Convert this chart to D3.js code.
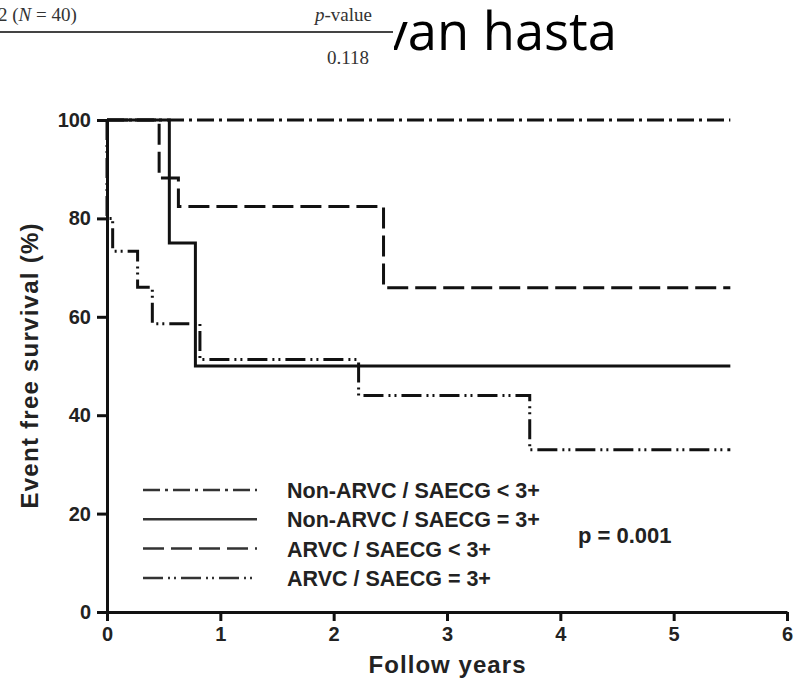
<!DOCTYPE html>
<html>
<head>
<meta charset="utf-8">
<script src="https://cdn.jsdelivr.net/npm/d3@7"></script>
<style>
    body { margin: 0; background: #fff; }
    #chart { width: 805px; height: 682px; }
</style>
</head>
<body>
<div id="chart"></div>
<script>

// groups in legend order
var groups = ["Non-ARVC / SAECG < 3+", "Non-ARVC / SAECG = 3+", "ARVC / SAECG < 3+", "ARVC / SAECG = 3+"];

// step points (years, % event free)
var nonArvcLow_t = [0, 5.5];
var nonArvcLow_s = [100, 100];

var nonArvcHigh_t = [0, 0.55, 0.78, 5.5];
var nonArvcHigh_s = [100, 75, 50, 50];

var arvcLow_t = [0, 0.46, 0.63, 2.44, 5.5];
var arvcLow_s = [100, 88.2, 82.4, 65.9, 65.9];

var arvcHigh_t = [0, 0, 0.05, 0.27, 0.40, 0.82, 2.22, 3.73, 5.5];
var arvcHigh_s = [100, 80, 73.3, 66, 58.6, 51.3, 44, 33, 33];

var xTicks = [0, 1, 2, 3, 4, 5, 6];
var yTicks = [0, 20, 40, 60, 80, 100];
var pText = "p = 0.001";

var series = [
    {name: groups[0], t: nonArvcLow_t, s: nonArvcLow_s, dash: "17,5,3,5"},
    {name: groups[1], t: nonArvcHigh_t, s: nonArvcHigh_s, dash: null},
    {name: groups[2], t: arvcLow_t, s: arvcLow_s, dash: "21,7"},
    {name: groups[3], t: arvcHigh_t, s: arvcHigh_s, dash: "20,5,2,4,2,5"}
];

var W = 805, H = 682;
var margin = {top: 120, left: 107, right: 18, bottom: 70};

var svg = d3.select("#chart")
    .append("svg")
    .attr("width", W)
    .attr("height", H)
    .style("font-family", "'Liberation Sans', Arial, sans-serif");

// ---- cropped table strip + slide text at the top ----
svg.append("clipPath")
    .attr("id", "slide-clip")
    .append("rect")
    .attr("x", 394).attr("y", 0)
    .attr("width", W - 394).attr("height", 90);

svg.append("text")
    .attr("clip-path", "url(#slide-clip)")
    .attr("x", 617)
    .attr("y", 50)
    .attr("text-anchor", "end")
    .style("font-family", "'Open Sans', Lato, sans-serif")
    .style("font-size", "52.5px")
    .style("fill", "#000")
    .text("van hasta");

var table = svg.append("g")
    .style("font-family", "'Liberation Serif', 'DejaVu Serif', serif")
    .style("fill", "#333");

var t1 = table.append("text")
    .attr("x", -2).attr("y", 21)
    .style("font-size", "19px");
t1.append("tspan").text("2 (");
t1.append("tspan").style("font-style", "italic").text("N");
t1.append("tspan").text(" = 40)");

var t2 = table.append("text")
    .attr("x", 315).attr("y", 21)
    .style("font-size", "19px");
t2.append("tspan").style("font-style", "italic").text("p");
t2.append("tspan").text("-value");

table.append("text")
    .attr("x", 327).attr("y", 64)
    .style("font-size", "19px")
    .text("0.118");

table.append("line")
    .attr("x1", 0).attr("x2", 393)
    .attr("y1", 32).attr("y2", 32)
    .style("stroke", "#444")
    .style("stroke-width", 2);

// ---- chart ----
var xScale = d3.scaleLinear()
    .domain([0, 6])
    .range([margin.left, W - margin.right]);

var yScale = d3.scaleLinear()
    .domain([0, 100])
    .range([H - margin.bottom, margin.top]);

svg.append("g")
    .attr("class", "y-axis")
    .attr("transform", "translate(" + margin.left + ",0)")
    .call(d3.axisLeft(yScale)
        .tickValues(yTicks)
        .tickFormat(d3.format("d"))
        .tickSize(10)
        .tickSizeOuter(0)
        .tickPadding(6));

svg.append("g")
    .attr("class", "x-axis")
    .attr("transform", "translate(0," + yScale(0) + ")")
    .call(d3.axisBottom(xScale)
        .tickValues(xTicks)
        .tickFormat(d3.format("d"))
        .tickSize(9)
        .tickSizeOuter(0)
        .tickPadding(6));

svg.selectAll(".x-axis path, .y-axis path, .x-axis line, .y-axis line")
    .style("stroke", "#111")
    .style("stroke-width", 3);

svg.selectAll(".x-axis text, .y-axis text")
    .style("font-size", "20px")
    .style("font-weight", "bold")
    .style("fill", "#222");

svg.append("text")
    .attr("x", xScale(3))
    .attr("y", 673)
    .attr("text-anchor", "middle")
    .attr("textLength", 157)
    .style("font-size", "24px")
    .style("font-weight", "bold")
    .style("fill", "#222")
    .text("Follow years");

svg.append("text")
    .attr("transform", "translate(38," + yScale(50) + ") rotate(-90)")
    .attr("text-anchor", "middle")
    .attr("textLength", 285)
    .style("font-size", "24px")
    .style("font-weight", "bold")
    .style("fill", "#222")
    .text("Event free survival (%)");

var line = d3.line()
    .x(function (d) { return xScale(d[0]); })
    .y(function (d) { return yScale(d[1]); })
    .curve(d3.curveStepAfter);

svg.selectAll("path.km")
    .data(series.slice().reverse())
    .enter()
    .append("path")
    .attr("class", "km")
    .attr("d", function (d) {
        return line(d.t.map(function (t, i) { return [t, d.s[i]]; }));
    })
    .style("fill", "none")
    .style("stroke", "#111")
    .style("stroke-width", 3)
    .style("stroke-dasharray", function (d) { return d.dash; });

// ---- legend ----
var legend = svg.append("g")
    .attr("class", "legend");

var rows = legend.selectAll("g.row")
    .data(series)
    .enter()
    .append("g")
    .attr("class", "row")
    .attr("transform", function (d, i) { return "translate(0," + (490 + i * 29.3) + ")"; });

rows.append("line")
    .attr("x1", 143).attr("x2", 257)
    .attr("y1", 0).attr("y2", 0)
    .style("stroke", "#333")
    .style("stroke-width", 2.5)
    .style("stroke-dasharray", function (d) { return d.dash; });

rows.append("text")
    .attr("x", 287)
    .attr("y", 8)
    .style("font-size", "21.5px")
    .style("font-weight", "bold")
    .style("fill", "#222")
    .text(function (d) { return d.name; });

svg.append("text")
    .attr("x", 578)
    .attr("y", 543)
    .style("font-size", "22px")
    .style("font-weight", "bold")
    .style("fill", "#222")
    .text(pText);

</script>
</body>
</html>
